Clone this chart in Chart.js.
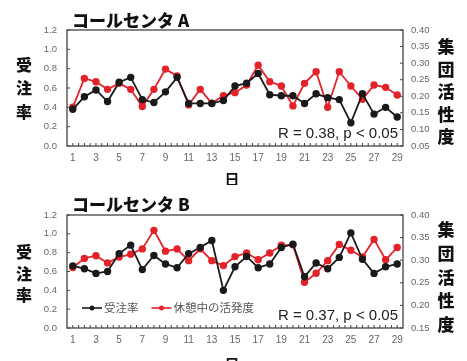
<!DOCTYPE html>
<html>
<head>
<meta charset="utf-8">
<script src="https://cdn.jsdelivr.net/npm/chart.js@4.4.1/dist/chart.umd.min.js"></script>
<style>
body{margin:0;width:467px;height:361px;overflow:hidden;background:#fff;}
.box{position:absolute;left:0;width:467px;height:185px;}
</style>
</head>
<body>
<div class="box" style="top:0"><canvas id="chartA" width="467" height="185"></canvas></div>
<div class="box" style="top:180px"><canvas id="chartB" width="467" height="185"></canvas></div>
<script>
const days = ['1','2','3','4','5','6','7','8','9','10','11','12','13','14','15','16','17','18','19','20','21','22','23','24','25','26','27','28','29'];

// コールセンタ A
const rateA = [0.38,0.51,0.58,0.46,0.66,0.71,0.48,0.45,0.56,0.71,0.44,0.44,0.44,0.47,0.62,0.65,0.75,0.53,0.52,0.52,0.44,0.54,0.50,0.48,0.24,0.54,0.33,0.40,0.30];
const activityA = [0.167,0.254,0.244,0.221,0.239,0.221,0.169,0.221,0.282,0.261,0.174,0.221,0.179,0.202,0.211,0.234,0.294,0.244,0.231,0.171,0.239,0.274,0.167,0.274,0.231,0.191,0.234,0.227,0.204];

// コールセンタ B
const rateB = [0.66,0.63,0.58,0.60,0.79,0.88,0.62,0.77,0.68,0.64,0.79,0.855,0.93,0.40,0.65,0.76,0.64,0.68,0.855,0.89,0.545,0.69,0.63,0.75,1.01,0.73,0.58,0.65,0.68];
const activityB = [0.284,0.304,0.310,0.294,0.307,0.313,0.325,0.366,0.320,0.325,0.299,0.325,0.299,0.288,0.308,0.316,0.301,0.316,0.333,0.334,0.251,0.271,0.299,0.335,0.322,0.307,0.346,0.301,0.328];

const jp = '"Noto Sans CJK JP", sans-serif';
const num = '"Liberation Sans", Arial, sans-serif';

// frame, inward ticks, titles and legend
const deco = {
    id: 'deco',
    afterDraw(chart, args, o) {
        const ctx = chart.ctx, a = chart.chartArea;
        ctx.save();
        ctx.strokeStyle = '#444';
        ctx.lineWidth = 1.3;
        ctx.strokeRect(a.left, a.top, a.right - a.left, a.bottom - a.top);
        ctx.lineWidth = 1;
        ctx.beginPath();
        const half = (a.right - a.left) / days.length / 2;
        for (let i = 1; i < days.length * 2; i++) {
            const x = a.left + i * half;
            ctx.moveTo(x, a.bottom); ctx.lineTo(x, a.bottom - 3);
        }
        chart.scales.y.ticks.forEach(t => {
            const y = chart.scales.y.getPixelForValue(t.value);
            ctx.moveTo(a.left, y); ctx.lineTo(a.left + 3, y);
        });
        chart.scales.y2.ticks.forEach(t => {
            const y = chart.scales.y2.getPixelForValue(t.value);
            ctx.moveTo(a.right, y); ctx.lineTo(a.right - 3, y);
        });
        ctx.stroke();

        ctx.fillStyle = '#111';
        ctx.textBaseline = 'middle';
        ctx.textAlign = 'left';
        ctx.font = '900 17px ' + jp;
        ctx.fillText(o.title, 72, o.titleY);

        ctx.textAlign = 'center';
        ctx.font = '900 16px ' + jp;
        '受注率'.split('').forEach((c, i) => ctx.fillText(c, 24, o.leftY[i]));
        ctx.font = '900 17px ' + jp;
        '集団活性度'.split('').forEach((c, i) => ctx.fillText(c, 446, o.rightY[i]));
        ctx.font = 'bold 15px ' + jp;
        ctx.fillText('日', 232, o.xTitleY);

        ctx.textAlign = 'right';
        ctx.fillStyle = '#222';
        ctx.font = '15px ' + num;
        ctx.fillText(o.rText, a.right - 5, a.bottom - 12);

        if (o.legend) {
            let x = 82;
            const y = o.legend;
            ctx.textAlign = 'left';
            ctx.font = '11.5px ' + jp;
            chart.data.datasets.forEach(ds => {
                ctx.strokeStyle = ds.borderColor;
                ctx.fillStyle = ds.borderColor;
                ctx.lineWidth = 1.6;
                ctx.beginPath(); ctx.moveTo(x, y); ctx.lineTo(x + 20, y); ctx.stroke();
                ctx.beginPath(); ctx.arc(x + 10, y, 2.5, 0, Math.PI * 2); ctx.fill();
                ctx.fillStyle = '#555';
                ctx.fillText(ds.label, x + 22, y);
                x += 22 + ctx.measureText(ds.label).width + 13;
            });
        }
        ctx.restore();
    }
};

function makeChart(id, rate, activity, o) {
    return new Chart(document.getElementById(id), {
        type: 'line',
        data: {
            labels: days,
            datasets: [{
                label: '受注率',
                data: rate,
                yAxisID: 'y',
                borderColor: '#1a1a1a',
                backgroundColor: '#1a1a1a',
                borderWidth: 1.8,
                pointRadius: 2.8,
                tension: 0
            }, {
                label: '休憩中の活発度',
                data: activity,
                yAxisID: 'y2',
                borderColor: '#e4222a',
                backgroundColor: '#e4222a',
                borderWidth: 1.8,
                pointRadius: 2.8,
                tension: 0
            }]
        },
        options: {
            responsive: false,
            animation: false,
            layout: { padding: { top: o.padTop, left: 0, right: 0, bottom: 0 } },
            plugins: { legend: { display: false }, tooltip: { enabled: false }, deco: o },
            scales: {
                x: {
                    offset: true,
                    grid: { display: false, drawTicks: false },
                    border: { display: false },
                    ticks: {
                        autoSkip: false, maxRotation: 0, padding: 6, color: '#666',
                        font: { family: num, size: 10 },
                        callback: (v, i) => i % 2 === 0 ? days[i] : ''
                    },
                    afterFit: s => { s.height = o.xH; }
                },
                y: {
                    position: 'left', min: 0, max: 1.2,
                    grid: { display: false, drawTicks: false },
                    border: { display: false },
                    ticks: { stepSize: 0.2, padding: 10, color: '#666', font: { family: num, size: 9.5 },
                        callback: v => v.toFixed(1) },
                    afterFit: s => { s.width = 67; }
                },
                y2: {
                    position: 'right', min: o.rightMin, max: 0.4,
                    grid: { display: false, drawTicks: false },
                    border: { display: false },
                    ticks: { stepSize: 0.05, padding: 8, color: '#666', font: { family: num, size: 9.5 },
                        callback: v => v.toFixed(2) },
                    afterFit: s => { s.width = 64; }
                }
            }
        },
        plugins: [deco]
    });
}

makeChart('chartA', rateA, activityA, {
    padTop: 30, xH: 39, rightMin: 0.05,
    title: 'コールセンタ A', titleY: 21,
    leftY: [65, 88, 112], rightY: [47, 70, 92, 115, 137], xTitleY: 179,
    rText: 'R = 0.38, p < 0.05', legend: 0
});
makeChart('chartB', rateB, activityB, {
    padTop: 35, xH: 37, rightMin: 0.15,
    title: 'コールセンタ B', titleY: 25,
    leftY: [72, 94, 115], rightY: [50, 74, 98, 121, 145], xTitleY: 184,
    rText: 'R = 0.37, p < 0.05', legend: 128
});
</script>
</body>
</html>
